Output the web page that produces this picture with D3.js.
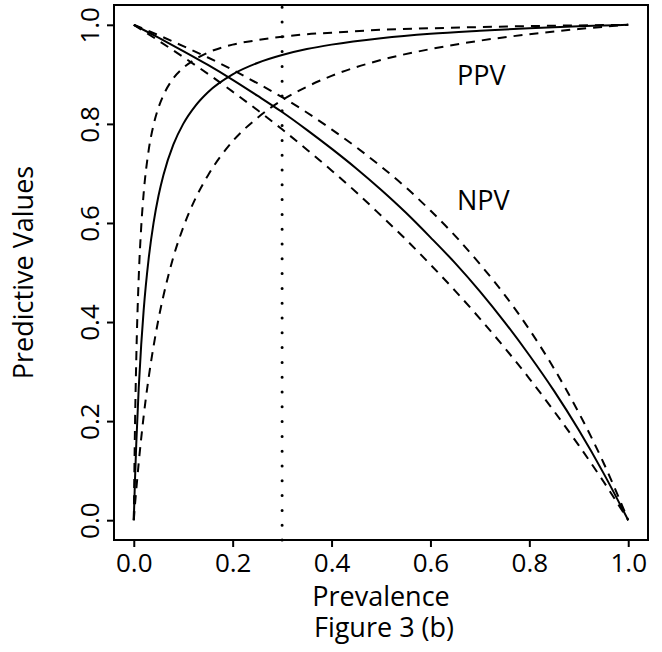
<!DOCTYPE html>
<meta charset="utf-8">
<style>
  body { margin: 0; background: #fff; }
  text { font-family: 'Open Sans', sans-serif; fill: #000; }
  .tick text { font-size: 26px; }
  .tick line { stroke: #000; stroke-width: 2px; }
  text.label { font-size: 27px; }
  .curve { fill: none; stroke: #000; stroke-width: 2px; }
  .dashed { stroke-dasharray: 9,7; }
</style>
<script src="https://d3js.org/d3.v7.min.js"></script>
<div id="my_dataviz"></div>
<script>

// prevalence values the curves were read at
var prevalence = [0, 0.0025, 0.005, 0.01, 0.015, 0.02, 0.03, 0.04, 0.05, 0.06, 0.08, 0.1, 0.125, 0.15,
                  0.2, 0.25, 0.3, 0.35, 0.4, 0.5, 0.6, 0.7, 0.8, 0.9, 0.95, 1];
var ppv      = [0, 0.083, 0.153, 0.267, 0.354, 0.424, 0.527, 0.600, 0.655, 0.697, 0.758, 0.800, 0.837, 0.864,
                0.900, 0.923, 0.939, 0.951, 0.960, 0.973, 0.982, 0.988, 0.993, 0.997, 0.9985, 1];
var ppvUpper = [0, 0.192, 0.323, 0.490, 0.591, 0.660, 0.746, 0.798, 0.833, 0.858, 0.892, 0.913, 0.931, 0.944,
                0.960, 0.969, 0.976, 0.981, 0.984, 0.990, 0.993, 0.9955, 0.9974, 0.9988, 0.9994, 1];
var ppvLower = [0, 0.032, 0.061, 0.116, 0.165, 0.210, 0.287, 0.351, 0.406, 0.453, 0.531, 0.591, 0.650, 0.696,
                0.765, 0.812, 0.848, 0.875, 0.897, 0.929, 0.951, 0.968, 0.981, 0.9915, 0.996, 1];

var prevNpv  = [0, 0.05, 0.1, 0.15, 0.2, 0.25, 0.3, 0.35, 0.4, 0.45, 0.5, 0.55, 0.6, 0.65, 0.7, 0.75,
                0.8, 0.85, 0.9, 0.95, 1];
var npv      = [1, 0.974, 0.947, 0.919, 0.889, 0.857, 0.824, 0.788, 0.750, 0.710, 0.667, 0.621, 0.571, 0.519,
                0.462, 0.400, 0.333, 0.261, 0.182, 0.095, 0];
var npvUpper = [1, 0.979, 0.957, 0.934, 0.909, 0.882, 0.854, 0.823, 0.789, 0.753, 0.714, 0.672, 0.625, 0.574,
                0.517, 0.455, 0.385, 0.306, 0.217, 0.116, 0];
var npvLower = [1, 0.968, 0.935, 0.901, 0.865, 0.828, 0.789, 0.748, 0.706, 0.662, 0.615, 0.567, 0.516, 0.463,
                0.407, 0.348, 0.286, 0.220, 0.151, 0.078, 0];

var ticks = [0, 0.2, 0.4, 0.6, 0.8, 1.0];
var cutoff = 0.3;

var width = 662, height = 652;

var svg = d3.select("#my_dataviz")
  .append("svg")
    .attr("width", width)
    .attr("height", height);

// R-style plot region: data range padded 4% each side
var x = d3.scaleLinear().domain([-0.04, 1.04]).range([114, 648]);
var y = d3.scaleLinear().domain([-0.04, 1.04]).range([540, 5]);

// frame
svg.append("rect")
  .attr("x", x(-0.04))
  .attr("y", y(1.04))
  .attr("width", x(1.04) - x(-0.04))
  .attr("height", y(-0.04) - y(1.04))
  .attr("fill", "none")
  .attr("stroke", "#000")
  .attr("stroke-width", 2);

// x axis
var gx = svg.append("g")
  .attr("transform", "translate(0," + y(-0.04) + ")")
  .call(d3.axisBottom(x).tickValues(ticks).tickFormat(d3.format(".1f")).tickSize(7).tickPadding(7));
gx.select(".domain").remove();

// y axis, labels parallel to axis
var gy = svg.append("g")
  .attr("transform", "translate(" + x(-0.04) + ",0)")
  .call(d3.axisLeft(y).tickValues(ticks).tickFormat(d3.format(".1f")).tickSize(7));
gy.select(".domain").remove();
gy.selectAll(".tick text")
  .attr("x", 0)
  .attr("y", 0)
  .attr("dy", 0)
  .attr("text-anchor", "middle")
  .attr("transform", "translate(-15,0) rotate(-90)");

// curves
var line = d3.line()
  .x(function(d) { return x(d[0]); })
  .y(function(d) { return y(d[1]); })
  .curve(d3.curveMonotoneX);

function addCurve(xs, ys, dashed) {
  svg.append("path")
    .datum(d3.zip(xs, ys))
    .attr("class", dashed ? "curve dashed" : "curve")
    .attr("d", line);
}

addCurve(prevalence, ppv, false);
addCurve(prevalence, ppvUpper, true);
addCurve(prevalence, ppvLower, true);
addCurve(prevNpv, npv, false);
addCurve(prevNpv, npvUpper, true);
addCurve(prevNpv, npvLower, true);

// dotted line at the chosen prevalence
svg.append("line")
  .attr("x1", x(cutoff))
  .attr("x2", x(cutoff))
  .attr("y1", y(-0.04))
  .attr("y2", y(1.04))
  .attr("stroke", "#000")
  .attr("stroke-width", 3)
  .attr("stroke-linecap", "round")
  .attr("stroke-dasharray", "0,14.8");

// curve labels
svg.append("text")
  .attr("class", "label")
  .attr("x", 457)
  .attr("y", 85)
  .text("PPV");

svg.append("text")
  .attr("class", "label")
  .attr("x", 457)
  .attr("y", 210)
  .text("NPV");

// axis titles
svg.append("text")
  .attr("class", "label")
  .attr("x", (x(-0.04) + x(1.04)) / 2)
  .attr("y", 606)
  .attr("text-anchor", "middle")
  .text("Prevalence");

svg.append("text")
  .attr("class", "label")
  .attr("transform", "translate(33," + (y(-0.04) + y(1.04)) / 2 + ") rotate(-90)")
  .attr("text-anchor", "middle")
  .text("Predictive Values");

svg.append("text")
  .attr("class", "label")
  .attr("x", 384)
  .attr("y", 637)
  .attr("text-anchor", "middle")
  .text("Figure 3 (b)");

</script>
